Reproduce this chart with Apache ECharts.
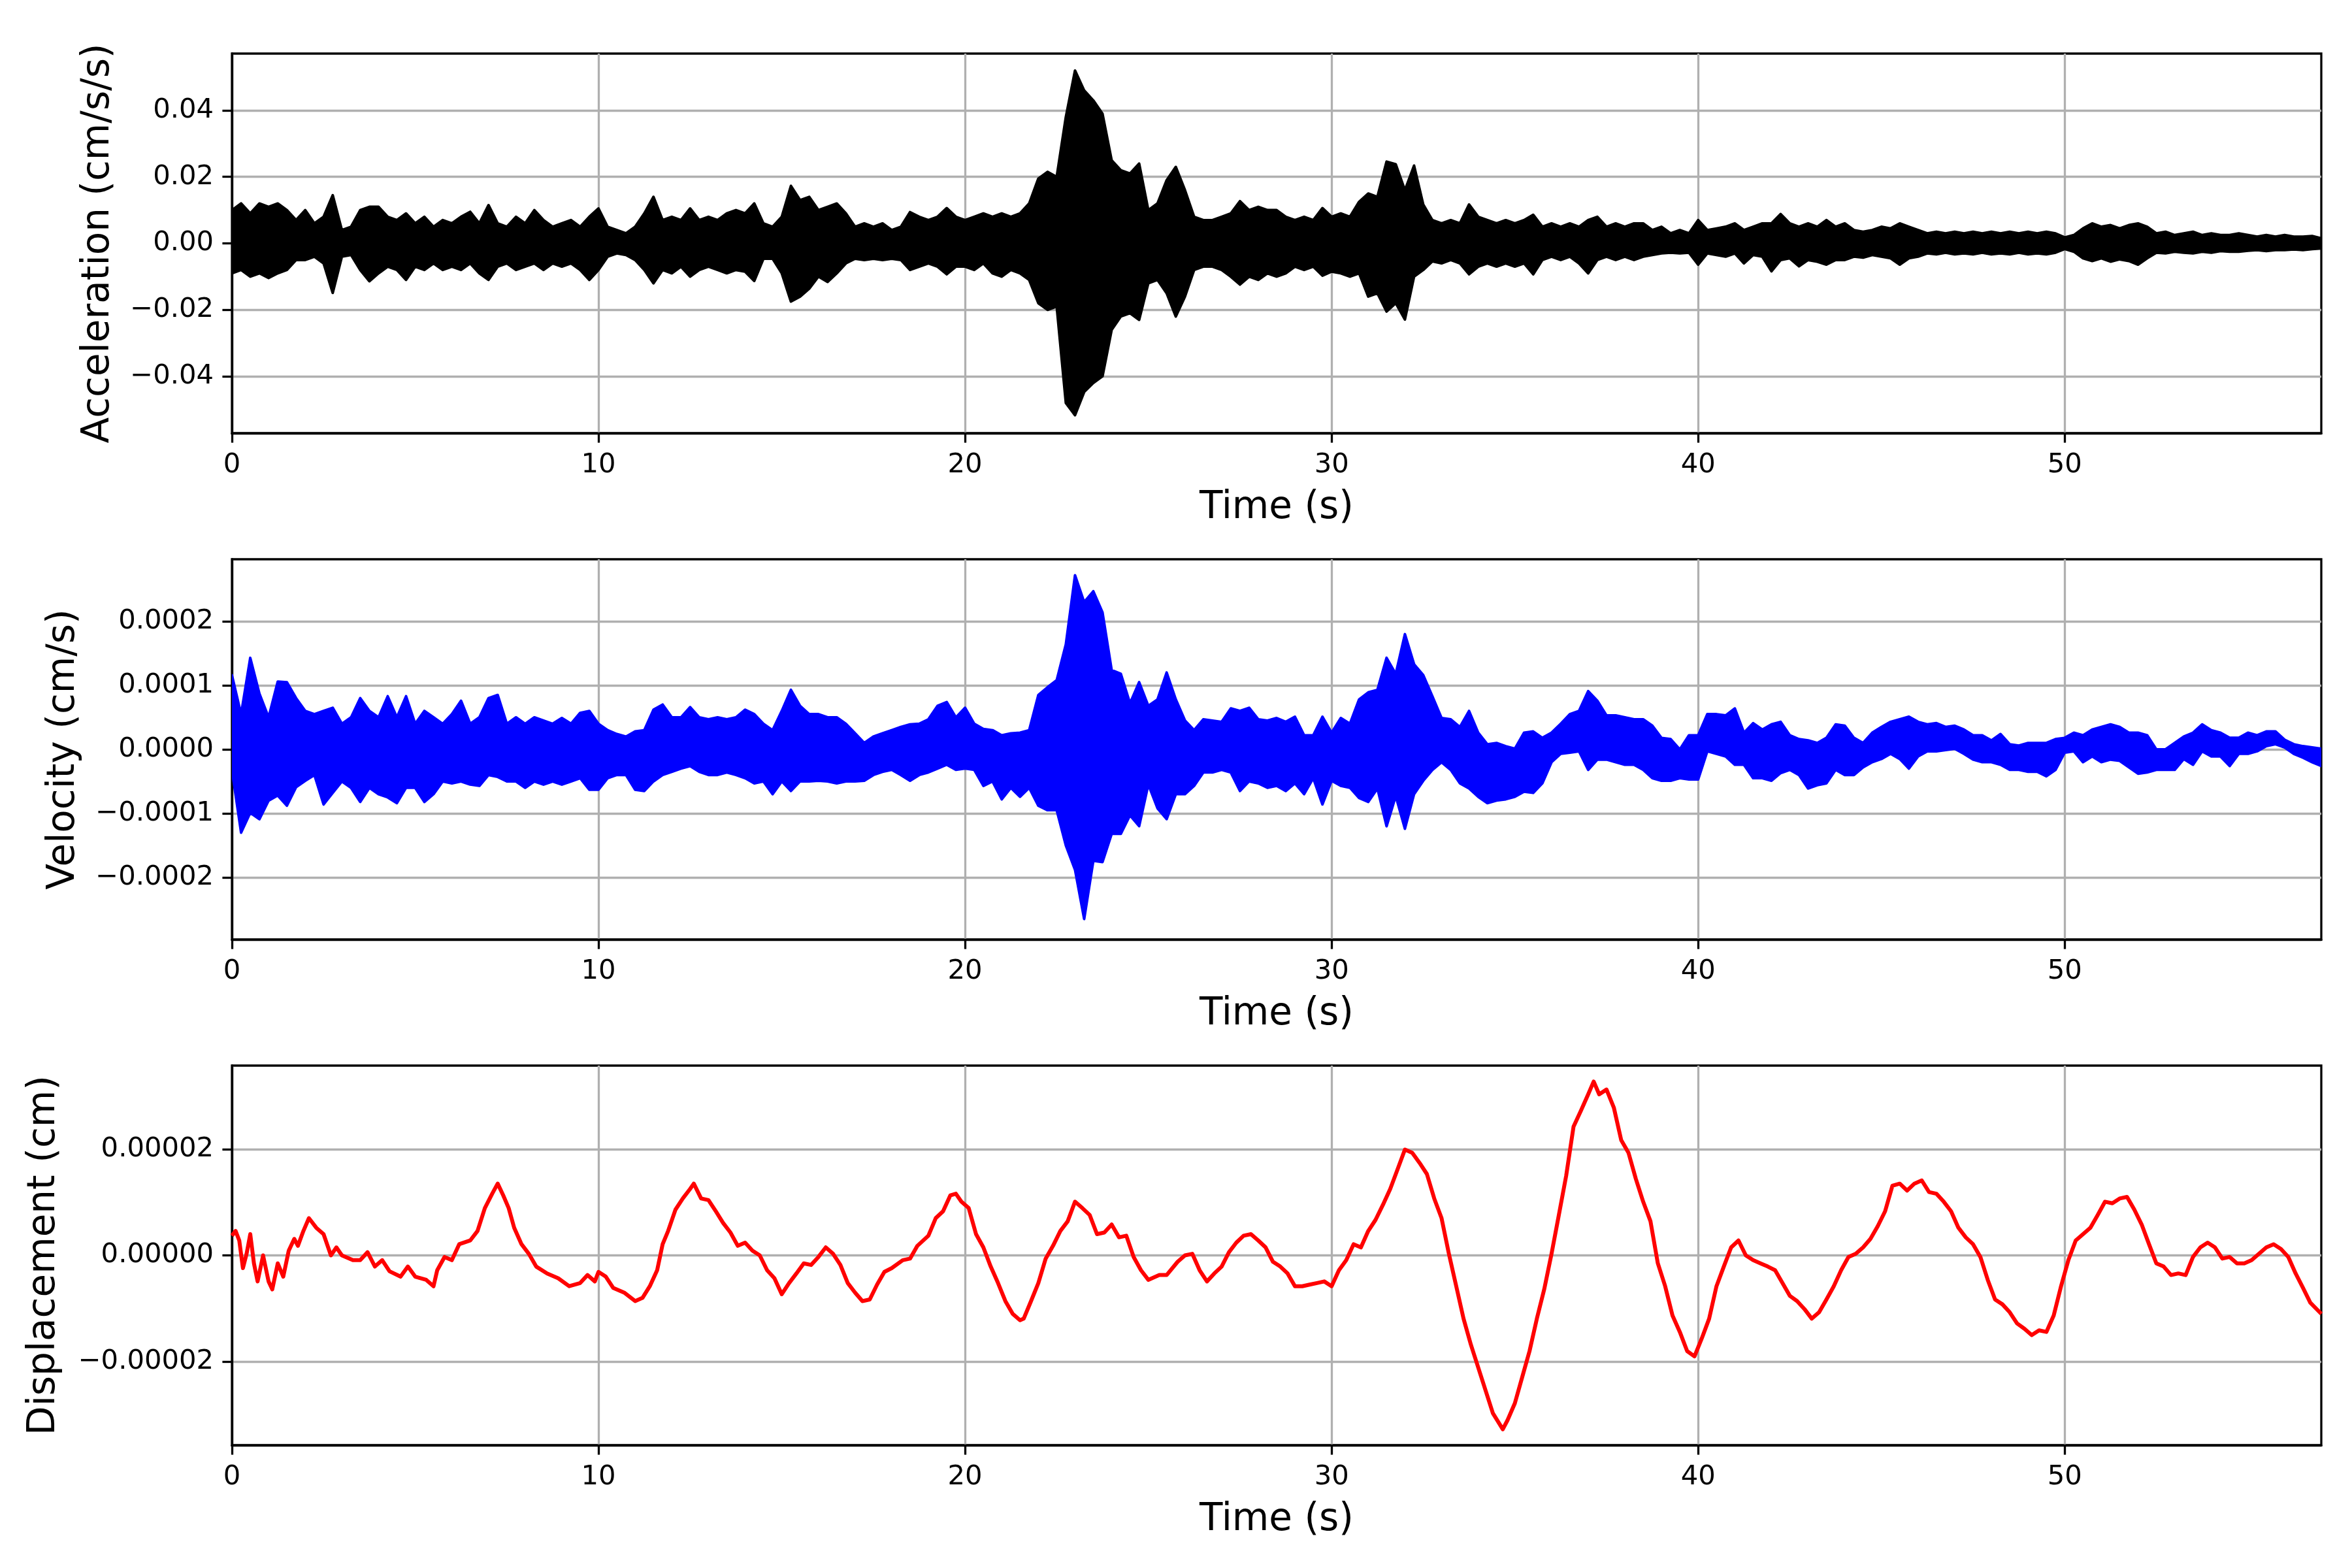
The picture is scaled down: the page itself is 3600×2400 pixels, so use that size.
<!DOCTYPE html>
<html>
<head>
<meta charset="utf-8">
<script src="https://cdn.jsdelivr.net/npm/echarts/dist/echarts.min.js"></script>
<style>
  html, body { margin: 0; background: #fff; }
  #chart { width: 3600px; height: 2400px; }
</style>
</head>
<body>
<div id="chart"></div>
<script>
// envelopes are sampled every STEP seconds, starting at t = 0
const STEP = 0.25;
const T_END = 57;

const timeTicks = [0, 10, 20, 30, 40, 50];
const accTicks = [-0.04, -0.02, 0, 0.02, 0.04];
const velTicks = [-0.0002, -0.0001, 0, 0.0001, 0.0002];
const dispTicks = [-0.00002, 0, 0.00002];

// acceleration, upper / lower envelope (x 1e-3 cm/s/s), one row = 2 s
const accHi = [
  10, 12, 9, 12, 11, 12, 10, 7,
  10, 6, 8, 14.5, 4, 5, 10, 11,
  11, 8, 7, 9, 6, 8, 5, 7,
  6, 8, 9.5, 6, 11.5, 6, 5, 8,
  6, 10, 7, 5, 6, 7, 5, 8,
  10.5, 5, 4, 3, 5, 9, 14, 7,
  8, 7, 10.5, 7, 8, 7, 9, 10,
  9, 12, 6, 5, 8, 17.3, 13, 14,
  10, 11, 12, 9, 5, 6, 5, 6,
  4, 5, 9.4, 8, 7, 8, 10.6, 8,
  7, 8, 9, 8, 9, 8, 9, 12,
  19.5, 21.5, 20, 38, 52, 46, 43, 39,
  25, 22, 21, 24, 10, 12, 19, 23,
  16, 8, 7, 7, 8, 9, 12.7, 10,
  11, 10, 10, 8, 7, 8, 7, 10.6,
  8, 9, 8, 12.5, 15, 14, 24.6, 23.8,
  16, 23.4, 11.7, 7, 6, 7, 6, 11.7,
  8, 7, 6, 7, 6, 7, 8.6, 5,
  6, 5, 6, 5, 7, 8, 5, 6,
  5, 6, 6, 4, 5, 3, 4, 3,
  7, 4, 4.5, 5, 6, 4, 5, 6,
  6, 8.8, 6, 5, 6, 5, 7, 5,
  6, 4, 3.5, 4, 5, 4.5, 6, 5,
  4, 3, 3.5, 3, 3.5, 3, 3.5, 3,
  3.5, 3, 3.5, 3, 3.5, 3, 3.5, 3,
  1.8, 2.5, 4.5, 6, 5, 5.5, 4.5, 5.5,
  6, 5, 3, 3.5, 2.5, 3, 3.5, 2.5,
  3, 2.5, 2.5, 3, 2.5, 2, 2.5, 2,
  2.5, 2, 2, 2.2, 1.5
];
const accLo = [
  -9, -8, -10, -9, -10.4, -9, -8, -5,
  -5, -4, -6, -14.9, -4, -3.5, -8, -11.4,
  -9, -7, -8, -11, -7, -8, -6, -8,
  -7, -8, -6, -9, -11, -7, -6, -8,
  -7, -6, -8, -6, -7, -6, -8, -11,
  -8, -4, -3, -3.5, -5, -8, -12, -8,
  -9, -7, -10, -8, -7, -8, -9, -8,
  -8.5, -11.3, -4.6, -4.6, -9, -17.5, -16, -13.6,
  -10, -11.6, -9, -6, -4.6, -5, -4.6, -5,
  -4.6, -5, -8, -7, -6, -7, -9.3, -7,
  -7, -8, -6, -9, -10, -8, -9, -11,
  -18, -20, -19, -48, -51.7, -44.7, -42, -40,
  -26, -22, -21, -23, -12, -11, -15, -22,
  -16, -8, -7, -7, -8, -10, -12.4, -10,
  -11, -9, -10, -9, -7, -8, -7, -9.7,
  -8.5, -9, -10, -9, -16, -15, -20.5, -18,
  -22.9, -10, -8, -5.4, -6, -5, -6, -9.3,
  -7, -6, -7, -6, -7, -6, -9.3, -5,
  -4, -5, -4, -6, -9, -5, -4, -5,
  -4, -5, -4, -3.5, -3, -2.8, -3, -2.8,
  -6.4, -3, -3.5, -4, -3, -6, -3.5, -4,
  -8.4, -5, -4.5, -6.9, -5, -5.5, -6.4, -5,
  -5, -4, -4.3, -3.5, -4, -4.5, -6.4, -4.5,
  -4, -3, -3.3, -2.8, -3.3, -3, -3.3, -2.8,
  -3.3, -3, -3.3, -2.8, -3.3, -3, -3.3, -2.8,
  -1.7, -2.5, -4.5, -5.3, -4.5, -5.5, -4.8, -5.3,
  -6.4, -4.5, -2.8, -3, -2.5, -2.8, -3, -2.5,
  -2.8, -2.3, -2.5, -2.5, -2.2, -2, -2.3, -2,
  -2, -1.8, -2, -1.7, -1.5
];

// velocity, upper / lower envelope (x 1e-5 cm/s), one row = 2 s
const velHi = [
  11.6, 5.5, 14.3, 8.7, 5, 10.6, 10.5, 8,
  6, 5.5, 6, 6.5, 4, 5, 8, 6,
  5, 8.3, 5, 8.3, 4, 6, 5, 4,
  5.5, 7.6, 4, 5, 8, 8.5, 4, 5,
  4, 5, 4.5, 4, 4.9, 4, 5.7, 6,
  4, 3, 2.4, 2, 2.8, 3, 6.2, 7,
  5, 5, 6.6, 5, 4.7, 5, 4.7, 5,
  6.2, 5.5, 4, 3, 6, 9.3, 6.8, 5.5,
  5.5, 5, 5, 4, 2.5, 1, 2, 2.5,
  3, 3.5, 3.9, 4, 4.7, 6.8, 7.4, 5,
  6.5, 4, 3.2, 3, 2.2, 2.5, 2.6, 3,
  8.5, 9.7, 10.8, 16.4, 27.2, 23, 24.7, 21.4,
  12.4, 11.8, 7.2, 10.5, 6.8, 7.8, 12, 7.8,
  4.5, 3, 4.7, 4.5, 4.3, 6.4, 6, 6.5,
  4.7, 4.5, 4.9, 4.3, 5.1, 2.2, 2.2, 5.1,
  2.6, 4.9, 4, 7.8, 8.9, 9.3, 14.3, 11.8,
  18, 13.3, 11.6, 8.3, 4.9, 4.7, 3.5, 6,
  2.6, 0.8, 1, 0.5, 0.1, 2.6, 2.8, 1.8,
  2.6, 4, 5.5, 6, 9.1, 7.6, 5.3, 5.3,
  5, 4.7, 4.7, 3.7, 1.8, 1.6, 0, 2.2,
  2.2, 5.5, 5.5, 5.3, 6.4, 2.6, 4.1, 3.1,
  3.9, 4.3, 2.2, 1.6, 1.4, 1, 1.8, 3.9,
  3.7, 1.8, 1, 2.6, 3.5, 4.3, 4.7, 5.1,
  4.3, 3.9, 4.1, 3.5, 3.7, 3.1, 2.2, 2.2,
  1.4, 2.4, 0.8, 0.6, 1, 1, 1, 1.6,
  1.8, 2.6, 2.2, 3.1, 3.5, 3.9, 3.5, 2.6,
  2.6, 2.2, 0, 0, 1, 2, 2.6, 3.9,
  3, 2.6, 1.8, 1.8, 2.6, 2.2, 2.8, 2.8,
  1.5, 0.8, 0.5, 0.3, 0.1
];
const velLo = [
  -3.2, -13, -9.9, -10.9, -8, -7.2, -8.8, -5.9,
  -4.9, -4, -8.6, -6.8, -5, -6, -8.2, -6,
  -7, -7.5, -8.4, -6, -6, -8.2, -7, -5,
  -5.3, -5, -5.5, -5.7, -4, -4.3, -5, -5,
  -6, -5, -5.5, -5, -5.5, -5, -4.5, -6.3,
  -6.3, -4.5, -4, -4, -6.3, -6.5, -5, -4,
  -3.5, -3, -2.6, -3.5, -4, -4, -3.6, -4,
  -4.5, -5.3, -5, -7, -5, -6.5, -5, -5,
  -4.9, -5, -5.3, -5, -5, -4.9, -4, -3.5,
  -3.2, -4, -4.9, -4, -3.6, -3, -2.4, -3.2,
  -3, -3.2, -5.7, -5, -7.8, -6, -7.4, -6,
  -8.8, -9.5, -9.5, -15, -18.8, -26.5, -17.4, -17.6,
  -13.2, -13.2, -10.3, -12, -5.5, -9.2, -10.9, -7,
  -7, -5.7, -3.6, -3.6, -3.2, -3.6, -6.5, -5,
  -5.3, -6, -5.7, -6.5, -5.3, -7, -4.5, -8.6,
  -4.9, -5.7, -6, -7.6, -8.2, -6.1, -12, -7.3,
  -12.4, -7, -4.9, -3.2, -2, -3.2, -5.3, -6.1,
  -7.4, -8.4, -8, -7.8, -7.4, -6.6, -6.8, -5.3,
  -2, -0.7, -0.5, -0.3, -3.2, -1.6, -1.6, -2,
  -2.4, -2.4, -3.2, -4.5, -4.9, -4.9, -4.5, -4.7,
  -4.7, -0.3, -0.7, -1.1, -2.4, -2.4, -4.5, -4.5,
  -4.9, -3.7, -3.2, -4, -6.1, -5.6, -5.3, -3.2,
  -4, -4, -2.8, -2, -1.5, -0.7, -1.5, -3,
  -1.1, -0.3, -0.3, -0.1, 0.1, -0.7, -1.6, -2,
  -2, -2.4, -3.2, -3.2, -3.5, -3.5, -4.2, -3.2,
  -0.5, -0.3, -2, -1.1, -2, -1.6, -1.8, -2.8,
  -3.8, -3.6, -3.2, -3.2, -3.2, -1.5, -2.4, -0.3,
  -1.1, -1.1, -2.6, -0.7, -0.7, -0.3, 0.5, 0.8,
  0.3, -0.7, -1.3, -2, -2.6
];

// displacement [time s, value x 1e-5 cm]
const dispPoints = [
  [0, 0.37], [0.1, 0.46], [0.2, 0.28], [0.3, -0.24], [0.4, 0.03], [0.5, 0.4], [0.6, -0.15],
  [0.7, -0.49], [0.85, 0], [1.0, -0.49], [1.1, -0.64], [1.25, -0.15], [1.4, -0.4], [1.55, 0.09],
  [1.7, 0.31], [1.8, 0.18], [1.95, 0.46], [2.1, 0.7], [2.3, 0.52], [2.5, 0.4], [2.7, 0],
  [2.85, 0.15], [3.0, 0], [3.3, -0.09], [3.5, -0.09], [3.7, 0.06], [3.9, -0.21], [4.1, -0.09],
  [4.3, -0.3], [4.6, -0.4], [4.8, -0.21], [5.0, -0.4], [5.3, -0.46], [5.5, -0.58], [5.6, -0.28],
  [5.8, -0.03], [6.0, -0.09], [6.2, 0.21], [6.5, 0.28], [6.7, 0.46], [6.9, 0.89], [7.1, 1.16],
  [7.25, 1.35], [7.4, 1.13], [7.55, 0.89], [7.7, 0.52], [7.9, 0.21], [8.1, 0.03], [8.3, -0.21],
  [8.6, -0.34], [8.9, -0.43], [9.2, -0.58], [9.5, -0.52], [9.7, -0.37], [9.9, -0.49], [10.0, -0.31],
  [10.2, -0.4], [10.4, -0.61], [10.7, -0.7], [11.0, -0.86], [11.2, -0.8], [11.4, -0.58], [11.6, -0.28],
  [11.75, 0.21], [11.9, 0.46], [12.1, 0.86], [12.3, 1.07], [12.5, 1.25], [12.6, 1.35], [12.8, 1.07],
  [13.0, 1.04], [13.2, 0.83], [13.4, 0.61], [13.6, 0.43], [13.8, 0.18], [14.0, 0.24], [14.2, 0.09],
  [14.4, 0], [14.6, -0.28], [14.8, -0.43], [15.0, -0.73], [15.2, -0.52], [15.4, -0.34], [15.6, -0.15],
  [15.8, -0.18], [16.0, -0.03], [16.2, 0.15], [16.4, 0.03], [16.6, -0.18], [16.8, -0.52], [17.0, -0.7],
  [17.2, -0.86], [17.4, -0.83], [17.6, -0.55], [17.8, -0.31], [18.0, -0.24], [18.3, -0.09], [18.5, -0.06],
  [18.7, 0.18], [19.0, 0.37], [19.2, 0.7], [19.4, 0.83], [19.6, 1.13], [19.75, 1.16], [19.9, 1.01],
  [20.1, 0.89], [20.3, 0.4], [20.5, 0.15], [20.7, -0.21], [20.9, -0.52], [21.1, -0.86], [21.3, -1.1],
  [21.5, -1.22], [21.6, -1.19], [21.8, -0.86], [22.0, -0.52], [22.2, -0.06], [22.4, 0.18], [22.6, 0.46],
  [22.8, 0.64], [23.0, 1.01], [23.2, 0.89], [23.4, 0.76], [23.6, 0.4], [23.8, 0.43], [24.0, 0.58],
  [24.2, 0.34], [24.4, 0.37], [24.6, -0.03], [24.8, -0.28], [25.0, -0.46], [25.3, -0.37], [25.5, -0.37],
  [25.8, -0.12], [26.0, 0], [26.2, 0.03], [26.4, -0.28], [26.6, -0.49], [26.8, -0.34], [27.0, -0.21],
  [27.2, 0.06], [27.4, 0.24], [27.6, 0.37], [27.8, 0.4], [28.0, 0.28], [28.2, 0.15], [28.4, -0.12],
  [28.6, -0.21], [28.8, -0.34], [29.0, -0.58], [29.2, -0.58], [29.4, -0.55], [29.6, -0.52], [29.8, -0.49],
  [30.0, -0.58], [30.2, -0.28], [30.4, -0.09], [30.6, 0.21], [30.8, 0.15], [31.0, 0.46], [31.2, 0.67],
  [31.4, 0.95], [31.6, 1.25], [31.8, 1.62], [32.0, 1.99], [32.2, 1.93], [32.4, 1.74], [32.6, 1.53],
  [32.8, 1.07], [33.0, 0.7], [33.2, 0.03], [33.4, -0.58], [33.6, -1.19], [33.8, -1.68], [34.0, -2.11],
  [34.2, -2.54], [34.4, -2.97], [34.67, -3.27], [34.8, -3.1], [35.0, -2.78], [35.2, -2.29], [35.4, -1.8],
  [35.6, -1.19], [35.8, -0.64], [36.0, 0.03], [36.2, 0.76], [36.4, 1.5], [36.6, 2.42], [36.8, 2.72],
  [37.0, 3.03], [37.15, 3.27], [37.3, 3.03], [37.5, 3.12], [37.7, 2.78], [37.9, 2.17], [38.1, 1.93],
  [38.3, 1.44], [38.5, 1.01], [38.7, 0.64], [38.9, -0.15], [39.1, -0.58], [39.3, -1.13], [39.5, -1.44],
  [39.7, -1.8], [39.9, -1.9], [40.1, -1.56], [40.3, -1.19], [40.5, -0.58], [40.7, -0.21], [40.9, 0.15],
  [41.1, 0.28], [41.3, 0], [41.5, -0.09], [41.7, -0.15], [41.9, -0.21], [42.1, -0.28], [42.3, -0.52],
  [42.5, -0.76], [42.7, -0.86], [42.9, -1.01], [43.1, -1.19], [43.3, -1.07], [43.5, -0.83], [43.7, -0.58],
  [43.9, -0.28], [44.1, -0.03], [44.3, 0.03], [44.5, 0.15], [44.7, 0.31], [44.9, 0.55], [45.1, 0.83],
  [45.3, 1.31], [45.5, 1.35], [45.7, 1.22], [45.9, 1.35], [46.1, 1.41], [46.3, 1.19], [46.5, 1.16],
  [46.7, 1.01], [46.9, 0.83], [47.1, 0.52], [47.3, 0.34], [47.5, 0.21], [47.7, -0.03], [47.9, -0.46],
  [48.1, -0.83], [48.3, -0.92], [48.5, -1.07], [48.7, -1.28], [48.9, -1.38], [49.1, -1.5], [49.3, -1.41],
  [49.5, -1.44], [49.7, -1.13], [49.9, -0.58], [50.1, -0.09], [50.3, 0.28], [50.5, 0.4], [50.7, 0.52],
  [50.9, 0.76], [51.1, 1.01], [51.3, 0.98], [51.5, 1.07], [51.7, 1.1], [51.9, 0.86], [52.1, 0.58],
  [52.3, 0.21], [52.5, -0.15], [52.7, -0.21], [52.9, -0.37], [53.1, -0.34], [53.3, -0.37], [53.5, -0.03],
  [53.7, 0.15], [53.9, 0.24], [54.1, 0.15], [54.3, -0.06], [54.5, -0.03], [54.7, -0.15], [54.9, -0.15],
  [55.1, -0.09], [55.3, 0.03], [55.5, 0.15], [55.7, 0.21], [55.9, 0.12], [56.1, -0.03], [56.3, -0.34],
  [56.5, -0.61], [56.7, -0.89], [57.0, -1.1]
];

const FONT = 'DejaVu Sans';

// rows of [time, lower, upper] in real units
function envelope(hi, lo, unit) {
  return hi.map((h, i) => [+(i * STEP).toFixed(2), lo[i] * unit, h * unit]);
}

const acc = envelope(accHi, accLo, 1e-3);
const vel = envelope(velHi, velLo, 1e-5);
const disp = dispPoints.map(p => [p[0], p[1] * 1e-5]);

const grids = [
  { top: 82, height: 581 },
  { top: 856, height: 582 },
  { top: 1631, height: 581 }
].map(g => Object.assign({
  left: 355, width: 3198, show: true,
  borderColor: '#000', borderWidth: 3.3, backgroundColor: '#fff'
}, g));

function timeAxis(i) {
  return {
    type: 'value', gridIndex: i, min: 0, max: T_END,
    name: 'Time (s)', nameLocation: 'middle', nameGap: 86,
    nameTextStyle: { fontSize: 58, color: '#000', fontFamily: FONT },
    axisLine: { show: true, onZero: false, lineStyle: { color: '#000', width: 3.3 } },
    axisTick: { show: true, length: 14.6, lineStyle: { color: '#000', width: 3.3 }, customValues: timeTicks },
    axisLabel: { fontSize: 41.7, color: '#000', fontFamily: FONT, margin: 28, customValues: timeTicks },
    splitLine: { show: true, lineStyle: { color: '#b0b0b0', width: 3.3 } }
  };
}

function valueAxis(i, name, gap, lim, ticks, digits) {
  return {
    type: 'value', gridIndex: i, min: -lim, max: lim,
    name: name, nameLocation: 'middle', nameRotate: 90, nameGap: gap,
    nameTextStyle: { fontSize: 58, color: '#000', fontFamily: FONT },
    axisLine: { show: true, onZero: false, lineStyle: { color: '#000', width: 3.3 } },
    axisTick: { show: true, length: 14.6, lineStyle: { color: '#000', width: 3.3 }, customValues: ticks },
    axisLabel: {
      fontSize: 41.7, color: '#000', fontFamily: FONT, margin: 28, customValues: ticks,
      formatter: v => v.toFixed(digits).replace('-', '\u2212')
    },
    splitLine: { show: true, lineStyle: { color: '#b0b0b0', width: 3.3 } }
  };
}

// dense trace drawn as the filled band between its lower and upper envelope
function bandSeries(i, rows, color) {
  return {
    type: 'custom', xAxisIndex: i, yAxisIndex: i, data: rows,
    encode: { x: 0, y: [1, 2] }, clip: true, z: 3,
    renderItem: (params, api) => {
      if (params.dataIndex !== 0) return null;
      const top = rows.map(r => api.coord([r[0], r[2]]));
      const bottom = rows.map(r => api.coord([r[0], r[1]])).reverse();
      return {
        type: 'polygon',
        shape: { points: top.concat(bottom) },
        style: { fill: color, stroke: color, lineWidth: 4, lineJoin: 'round' }
      };
    }
  };
}

const chart = echarts.init(document.getElementById('chart'));
chart.setOption({
  backgroundColor: '#fff',
  animation: false,
  grid: grids,
  xAxis: [timeAxis(0), timeAxis(1), timeAxis(2)],
  yAxis: [
    valueAxis(0, 'Acceleration (cm/s/s)', 175, 0.0571, accTicks, 2),
    valueAxis(1, 'Velocity (cm/s)', 228, 0.000297, velTicks, 4),
    valueAxis(2, 'Displacement (cm)', 258, 0.0000357, dispTicks, 5)
  ],
  series: [
    bandSeries(0, acc, '#000000'),
    bandSeries(1, vel, '#0000ff'),
    {
      type: 'line', xAxisIndex: 2, yAxisIndex: 2, data: disp, symbol: 'none', z: 3,
      lineStyle: { color: '#ff0000', width: 6, join: 'round' }
    }
  ]
});
</script>
</body>
</html>
